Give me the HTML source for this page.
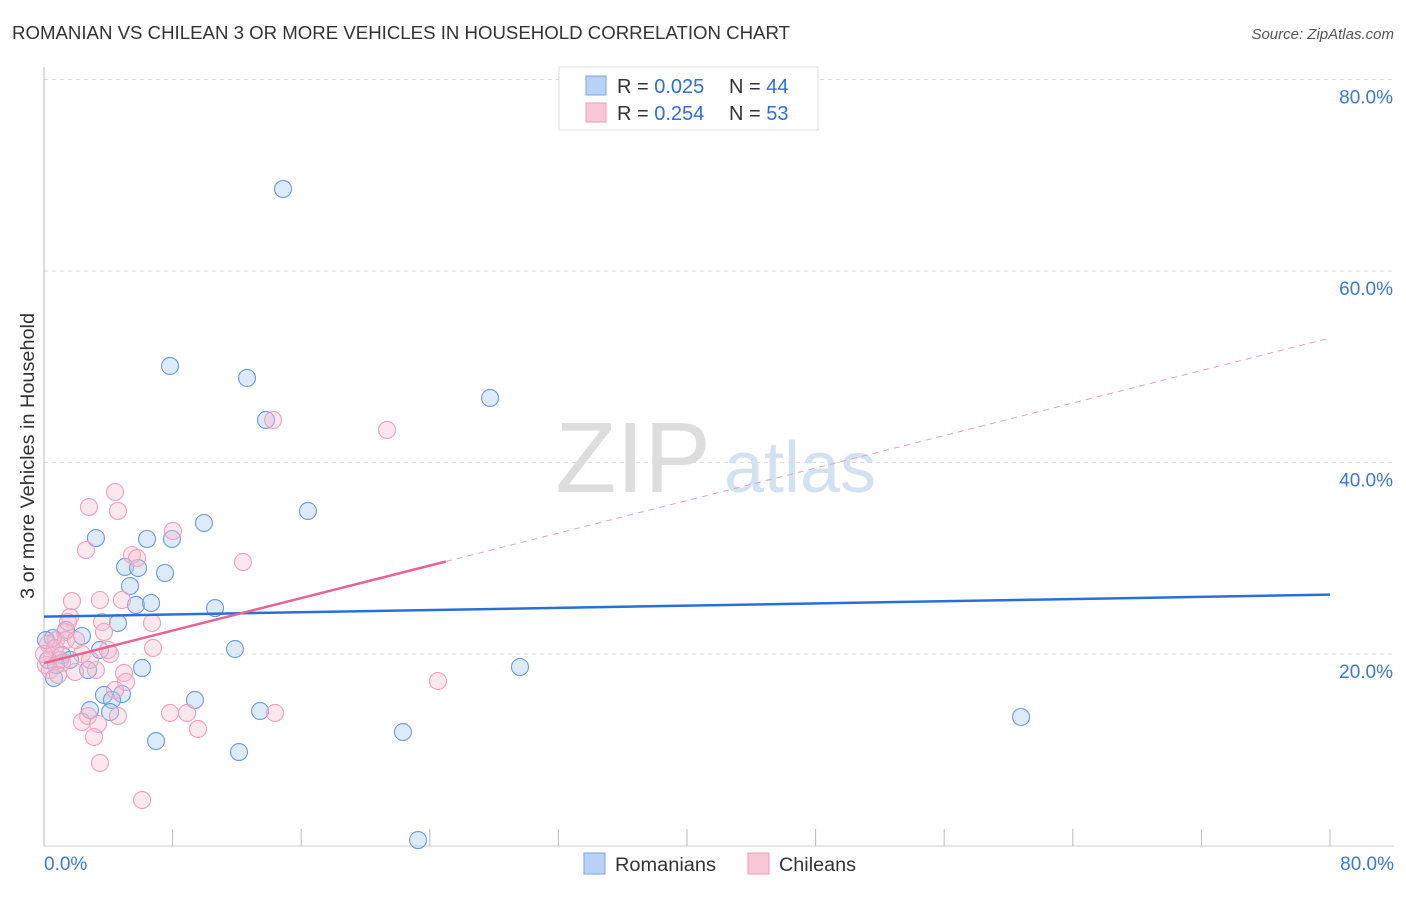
<!DOCTYPE html>
<html><head><meta charset="utf-8"><style>
body{margin:0;background:#fff;font-family:"Liberation Sans",sans-serif;}
svg text{font-family:"Liberation Sans",sans-serif;}
</style></head><body>
<svg id="chart" width="1406" height="892">
<text x="12" y="39" font-size="18" fill="#333" textLength="778" lengthAdjust="spacingAndGlyphs">ROMANIAN VS CHILEAN 3 OR MORE VEHICLES IN HOUSEHOLD CORRELATION CHART</text>
<text x="1394" y="39" font-size="15" fill="#555" text-anchor="end" font-style="italic">Source: ZipAtlas.com</text>
<g>
<text x="633" y="492" font-size="100" fill="#ddd" font-family="Liberation Serif" text-anchor="middle">ZIP</text>
<text x="800" y="492" font-size="72" fill="#d3e2f3" text-anchor="middle">atlas</text>
</g>
<g id="grid"></g>
<g id="axes"></g>
<g id="pts"></g>
<g id="trend"></g>
<text transform="translate(34,456) rotate(-90)" font-size="19" fill="#333" text-anchor="middle" textLength="286" lengthAdjust="spacingAndGlyphs">3 or more Vehicles in Household</text>
<g>
<rect x="559" y="67" width="259" height="63" fill="#fff" stroke="#ddd"/>
<rect x="586" y="76" width="20" height="19" fill="#b7d2f4" stroke="#7aa6e0"/>
<rect x="586" y="103" width="20" height="19" fill="#f9c8d6" stroke="#ec9cb5"/>
<text x="617" y="93" font-size="20" fill="#333">R = <tspan fill="#2f6fd0">0.025</tspan></text>
<text x="729" y="93" font-size="20" fill="#333">N = <tspan fill="#2f6fd0">44</tspan></text>
<text x="617" y="120" font-size="20" fill="#333">R = <tspan fill="#2f6fd0">0.254</tspan></text>
<text x="729" y="120" font-size="20" fill="#333">N = <tspan fill="#2f6fd0">53</tspan></text>
</g>
<g>
<rect x="584" y="853" width="21" height="21" fill="#b7d2f4" stroke="#7aa6e0"/>
<text x="615" y="871" font-size="19" fill="#333" textLength="101" lengthAdjust="spacingAndGlyphs">Romanians</text>
<rect x="748" y="853" width="21" height="21" fill="#f9c8d6" stroke="#ec9cb5"/>
<text x="779" y="871" font-size="19" fill="#333" textLength="77" lengthAdjust="spacingAndGlyphs">Chileans</text>
</g>
</svg>
<script>
const romX=[14.87,7.84,12.63,13.81,27.75,16.42,9.95,3.23,6.41,7.96,5.04,5.85,7.53,5.35,5.72,6.66,10.64,4.60,2.36,0.56,11.88,3.48,1.12,0.25,6.10,29.61,2.74,0.62,3.73,4.85,4.23,9.39,2.86,4.11,13.44,60.78,6.97,12.13,22.33,23.27,1.62,0.75,0.12,1.37];
const romY=[68.56,50.08,48.83,44.44,46.74,34.94,33.68,32.11,32.01,32.01,29.09,28.98,28.46,27.10,25.12,25.33,24.80,23.24,21.88,21.67,20.52,20.42,19.90,19.38,18.54,18.64,18.33,17.49,15.72,15.82,15.20,15.20,14.15,13.94,14.05,13.42,10.91,9.76,11.85,0.57,19.38,18.85,21.46,22.51];
const chiX=[14.25,21.34,4.42,2.80,4.60,8.02,2.61,5.47,5.79,12.38,1.74,4.85,1.62,6.72,3.61,3.73,1.31,0.75,0.25,6.78,4.11,2.36,0.50,1.00,3.23,1.93,4.98,5.10,24.51,0.12,0.68,1.12,4.42,2.74,4.60,7.84,8.90,14.37,2.36,3.36,9.58,3.11,3.48,6.10,1.37,0.37,0.87,0.0,1.49,3.98,2.86,1.99,3.48];
const chiY=[44.44,43.40,36.92,35.35,34.94,32.85,30.86,30.34,30.03,29.61,25.53,25.64,23.86,23.24,23.34,22.30,22.30,21.46,21.04,20.63,20.00,20.00,19.79,19.38,18.33,18.12,18.02,17.08,17.18,18.85,20.63,19.06,16.24,13.52,13.52,13.84,13.84,13.84,12.90,12.69,12.17,11.33,8.62,4.75,21.46,18.33,17.81,20.00,23.34,20.42,19.38,21.46,25.64];
const yTicks=[20,40,60,80];
const yTickLabels=["20.0%","40.0%","60.0%","80.0%"];
const romTrend=[23.9,26.2];
const chiTrend=[19.05,53.0];
const chiSolidEnd=25;
const NS="http://www.w3.org/2000/svg";
const X=v=>44+v*16.075, Y=v=>845.5-v*9.575;
function mk(p,t,a){const e=document.createElementNS(NS,t);for(const k in a)e.setAttribute(k,a[k]);document.getElementById(p).appendChild(e);return e;}
yTicks.forEach((t,i)=>{
 const l=mk('grid','line',{x1:44,x2:1394,y1:Y(t),y2:Y(t),stroke:'#ddd','stroke-dasharray':'4,4'});
 
 
 const tx=mk('grid','text',{x:1393,y:Y(t)+24,'font-size':19,fill:'#3a78d4','text-anchor':'end'});
 tx.textContent=yTickLabels[i];
 
 
});
let a=mk('axes','line',{x1:44,x2:44,y1:67,y2:846,stroke:'#bbb'});


a=mk('axes','line',{x1:44,x2:1394,y1:846,y2:846,stroke:'#ccc'});


for(let v=0;v<=80;v+=8){const t=mk('axes','line',{x1:X(v),x2:X(v),y1:829,y2:846,stroke:'#bbb'});
 
 }
let xl=mk('axes','text',{x:44,y:870,'font-size':19,fill:'#3a78d4'});xl.textContent='0.0%';


xl=mk('axes','text',{x:1394,y:870,'font-size':19,fill:'#3a78d4','text-anchor':'end'});xl.textContent='80.0%';


romX.forEach((v,i)=>{const c=mk('pts','circle',{cx:X(v),cy:Y(romY[i]),r:8.5,fill:'rgba(170,202,242,0.4)',stroke:'#6a9ade','stroke-width':1.1});
 
 });
chiX.forEach((v,i)=>{const c=mk('pts','circle',{cx:X(v),cy:Y(chiY[i]),r:8.5,fill:'rgba(248,185,205,0.35)',stroke:'#efa0ba','stroke-width':1.1});
 
 });
let tl=mk('trend','line',{x1:X(0),y1:Y(romTrend[0]),x2:X(80),y2:Y(romTrend[1]),stroke:'#2a6fd6','stroke-width':2.5});


const cy=v=>chiTrend[0]+(chiTrend[1]-chiTrend[0])*v/80;
tl=mk('trend','line',{x1:X(0),y1:Y(cy(0)),x2:X(chiSolidEnd),y2:Y(cy(chiSolidEnd)),stroke:'#e8638f','stroke-width':2.5});


tl=mk('trend','line',{x1:X(chiSolidEnd),y1:Y(cy(chiSolidEnd)),x2:X(80),y2:Y(cy(80)),stroke:'#eaa0b8','stroke-width':1,'stroke-dasharray':'6,5'});


</script>
</body></html>
